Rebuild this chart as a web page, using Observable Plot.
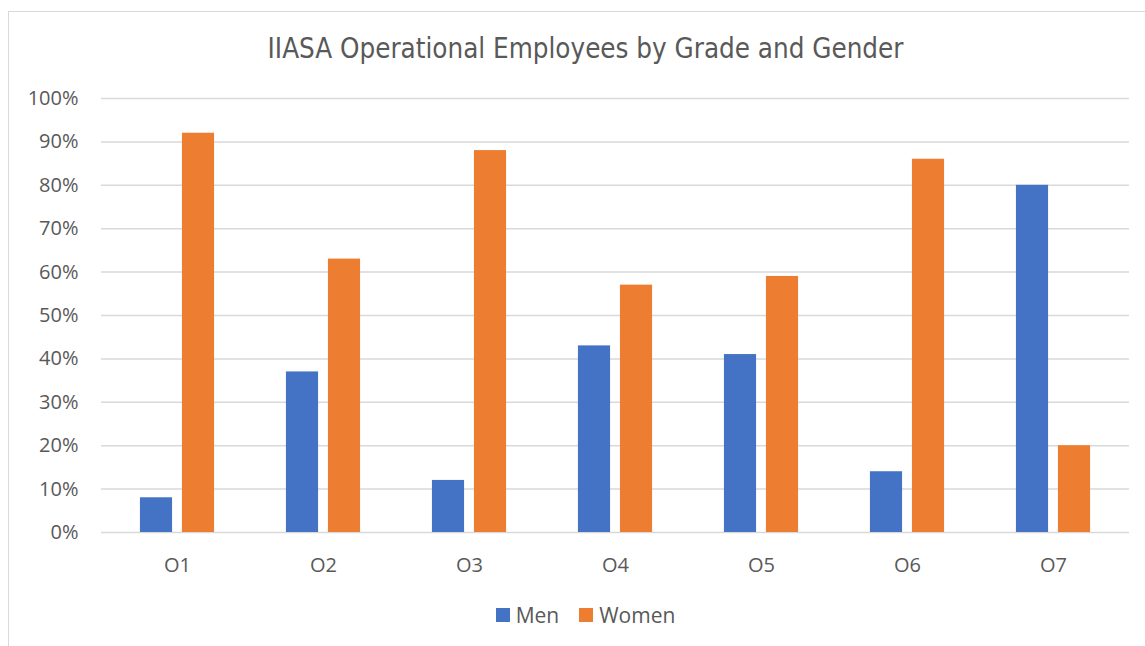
<!DOCTYPE html>
<html>
<head>
<meta charset="utf-8">
<script src="https://cdn.jsdelivr.net/npm/d3@7"></script>
<script src="https://cdn.jsdelivr.net/npm/@observablehq/plot@0.6"></script>
<style>
  html, body { margin: 0; padding: 0; background: #fff; width: 1145px; height: 646px; overflow: hidden; }
  #frame { position: absolute; left: 8px; top: 11px; width: 1160px; height: 660px; border: 1px solid #D9D9D9; box-sizing: border-box; }
  #title { position: absolute; left: 8px; top: 30px; width: 1155px; text-align: center; font-family: "DejaVu Sans Condensed", "DejaVu Sans", sans-serif; font-size: 27.5px; line-height: 36px; color: #595959; white-space: nowrap; }
  #chart { position: absolute; left: 0; top: 80px; }
  #legend { position: absolute; left: 8px; top: 600px; width: 1155px; height: 30px; display: flex; justify-content: center; align-items: center; font-family: "Open Sans", sans-serif; font-size: 21px; color: #595959; }
  .sw { display: inline-block; width: 14px; height: 14px; margin-right: 6px; }
  .item { display: flex; align-items: center; margin: 0 10px; }
</style>
</head>
<body>
<div id="frame"></div>
<div id="title">IIASA Operational Employees by Grade and Gender</div>
<div id="chart"></div>
<div id="legend"></div>
<script>
const grades = ["O1", "O2", "O3", "O4", "O5", "O6", "O7"];
const men = [0.08, 0.37, 0.12, 0.43, 0.41, 0.14, 0.80];
const women = [0.92, 0.63, 0.88, 0.57, 0.59, 0.86, 0.20];
const seriesNames = ["Men", "Women"];
const seriesColors = ["#4472C4", "#ED7D31"];
const yTicks = [0, 0.1, 0.2, 0.3, 0.4, 0.5, 0.6, 0.7, 0.8, 0.9, 1.0];

const menData = grades.map((g, i) => ({grade: g, value: men[i]}));
const womenData = grades.map((g, i) => ({grade: g, value: women[i]}));

const W = 1145, ml = 101, mr = 16;
const step = (W - ml - mr) / grades.length;
const barW = 33;
const inset = (step - barW) / 2;
const off = 21;

const plot = Plot.plot({
  width: W,
  height: 500,
  marginLeft: ml,
  marginRight: mr,
  marginTop: 18,
  marginBottom: 48,
  style: { fontFamily: "'Open Sans', sans-serif", fontSize: "20px", color: "#595959", background: "transparent" },
  x: { domain: grades, padding: 0, label: null, tickSize: 0, tickPadding: 25 },
  y: { domain: [0, 1], ticks: yTicks, tickFormat: d3.format(".0%"), label: null, tickSize: 0, tickPadding: 23 },
  marks: [
    Plot.ruleY(yTicks, { stroke: "#D9D9D9", strokeWidth: 1.5 }),
    Plot.barY(menData, { x: "grade", y: "value", fill: seriesColors[0], insetLeft: inset, insetRight: inset, dx: -off }),
    Plot.barY(womenData, { x: "grade", y: "value", fill: seriesColors[1], insetLeft: inset, insetRight: inset, dx: off })
  ]
});
document.getElementById("chart").appendChild(plot);

const legend = document.getElementById("legend");
seriesNames.forEach((n, i) => {
  const item = document.createElement("span");
  item.className = "item";
  const sw = document.createElement("span");
  sw.className = "sw";
  sw.style.background = seriesColors[i];
  item.appendChild(sw);
  item.appendChild(document.createTextNode(n));
  legend.appendChild(item);
});
</script>
</body>
</html>
